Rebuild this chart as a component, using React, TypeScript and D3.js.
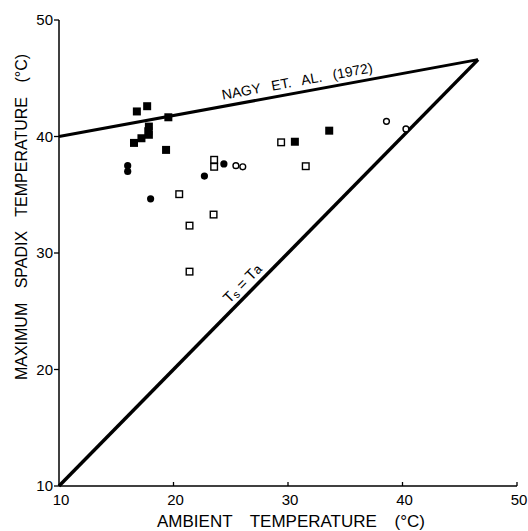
import React from "react";
import * as d3 from "d3";

const xTicks = [10, 20, 30, 40, 50];
const yTicks = [10, 20, 30, 40, 50];

const filledSquaresX = [16.8, 17.7, 19.55, 17.85, 17.8, 17.85, 17.2, 16.55, 19.35, 30.6, 33.6];
const filledSquaresY = [42.15, 42.6, 41.65, 40.85, 40.45, 40.15, 39.85, 39.45, 38.85, 39.55, 40.5];

const filledCirclesX = [16.0, 16.0, 18.0, 22.7, 24.4];
const filledCirclesY = [37.5, 37.0, 34.65, 36.6, 37.65];

const openSquaresX = [23.55, 23.55, 20.5, 23.5, 21.4, 21.4, 31.55, 29.4];
const openSquaresY = [38.0, 37.4, 35.05, 33.3, 32.35, 28.4, 37.45, 39.5];

const openCirclesX = [25.45, 26.05, 38.6, 40.3];
const openCirclesY = [37.5, 37.4, 41.3, 40.65];

const apex = 46.6;
const nagyStart = [10, 40];

export default function App() {
  const left = 59, right = 517, top = 20, bottom = 486;
  const x = d3.scaleLinear().domain([10, 50]).range([left, right]);
  const y = d3.scaleLinear().domain([10, 50]).range([bottom, top]);
  const line = d3.line<number[]>().x((d) => x(d[0])).y((d) => y(d[1]));
  const font = "'Liberation Sans', Arial, sans-serif";
  const nagyAngle = (Math.atan2(y(apex) - y(nagyStart[1]), x(apex) - x(nagyStart[0])) * 180) / Math.PI;
  const diagAngle = (Math.atan2(y(apex) - y(10), x(apex) - x(10)) * 180) / Math.PI;

  return (
    <svg
      width={528}
      height={531}
      style={{ position: "absolute", left: 0, top: 0, background: "#fff" }}
      fontFamily={font}
    >
      {/* axes */}
      <line x1={left} x2={left} y1={top} y2={bottom} stroke="#000" strokeWidth={1.5} />
      <line x1={left} x2={right} y1={bottom} y2={bottom} stroke="#000" strokeWidth={1.5} />
      {yTicks.map((t) => (
        <g key={"y" + t}>
          <line x1={left - 5} x2={left} y1={y(t)} y2={y(t)} stroke="#000" strokeWidth={1.3} />
          <text x={left - 6} y={y(t) + 5} textAnchor="end" fontSize={15}>
            {t}
          </text>
        </g>
      ))}
      {xTicks.map((t) => (
        <g key={"x" + t}>
          {t !== 10 && (
            <line x1={x(t)} x2={x(t)} y1={bottom} y2={bottom - 4} stroke="#000" strokeWidth={1.3} />
          )}
          <text x={x(t) + 2} y={bottom + 19} textAnchor="middle" fontSize={15}>
            {t}
          </text>
        </g>
      ))}
      <text x={291} y={527} textAnchor="middle" fontSize={17} wordSpacing={13}>
        AMBIENT TEMPERATURE (°C)
      </text>
      <text
        transform={`translate(27,217) rotate(-90)`}
        textAnchor="middle"
        fontSize={16}
        wordSpacing={10}
      >
        MAXIMUM SPADIX TEMPERATURE (°C)
      </text>

      {/* reference lines */}
      <path d={line([nagyStart, [apex, apex]]) || ""} fill="none" stroke="#000" strokeWidth={3} />
      <path d={line([[10, 10], [apex, apex]]) || ""} fill="none" stroke="#000" strokeWidth={3.5} />
      <text
        transform={`translate(298,86) rotate(${nagyAngle})`}
        textAnchor="middle"
        fontSize={14}
        wordSpacing={7}
      >
        NAGY ET. AL. (1972)
      </text>
      <text
        transform={`translate(246,287) rotate(${diagAngle})`}
        textAnchor="middle"
        fontSize={15}
      >
        <tspan>T</tspan>
        <tspan fontSize={11} dy={2}>s</tspan>
        <tspan dy={-2}> = T</tspan>
        <tspan fontSize={13}>a</tspan>
      </text>

      {/* data */}
      {filledSquaresX.map((v, i) => (
        <rect
          key={"fs" + i}
          x={x(v) - 4}
          y={y(filledSquaresY[i]) - 4}
          width={8}
          height={8}
          fill="#000"
        />
      ))}
      {filledCirclesX.map((v, i) => (
        <circle key={"fc" + i} cx={x(v)} cy={y(filledCirclesY[i])} r={3.6} fill="#000" />
      ))}
      {openSquaresX.map((v, i) => (
        <rect
          key={"os" + i}
          x={x(v) - 3.3}
          y={y(openSquaresY[i]) - 3.3}
          width={6.6}
          height={6.6}
          fill="#fff"
          stroke="#000"
          strokeWidth={1.4}
        />
      ))}
      {openCirclesX.map((v, i) => (
        <circle
          key={"oc" + i}
          cx={x(v)}
          cy={y(openCirclesY[i])}
          r={2.9}
          fill="#fff"
          stroke="#000"
          strokeWidth={1.4}
        />
      ))}
    </svg>
  );
}
